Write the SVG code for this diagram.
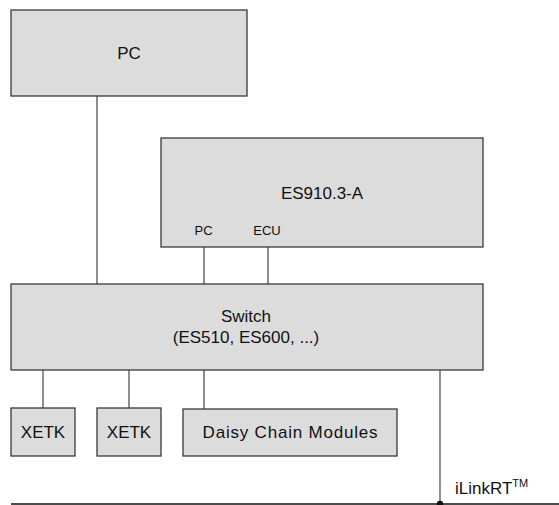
<svg xmlns="http://www.w3.org/2000/svg" width="559" height="505" viewBox="0 0 559 505">
<style>
.box{fill:#dcdcdc;stroke:#3a3a3a;stroke-width:1.3}
.t{font-family:"Liberation Sans",Arial,sans-serif;font-size:17px;fill:#111;text-anchor:middle}
.s{font-family:"Liberation Sans",Arial,sans-serif;font-size:13px;fill:#111;text-anchor:middle}
.c{stroke:#444;stroke-width:1.2;fill:none}
</style>
<rect width="559" height="505" fill="#fff"/>
<g id="connectors">
<line class="c" x1="97" y1="96" x2="97" y2="284"/>
<line class="c" x1="204" y1="247" x2="204" y2="284"/>
<line class="c" x1="268" y1="247" x2="268" y2="284"/>
<line class="c" x1="43" y1="370" x2="43" y2="408"/>
<line class="c" x1="129" y1="370" x2="129" y2="408"/>
<line class="c" x1="204" y1="370" x2="204" y2="409"/>
<line class="c" x1="440" y1="370" x2="440" y2="504"/>
<line x1="11" y1="504" x2="559" y2="504" stroke="#111" stroke-width="1.3"/>
<circle cx="440" cy="504" r="3.2" fill="#111"/>
</g>
<g id="pc">
<rect class="box" x="11" y="10" width="236" height="86"/>
<text class="t" x="129" y="58.5">PC</text>
</g>
<g id="es910">
<rect class="box" x="161" y="138" width="322" height="109"/>
<text class="t" x="322" y="198.5">ES910.3-A</text>
<text class="s" x="203.5" y="235">PC</text>
<text class="s" x="267" y="235">ECU</text>
</g>
<g id="switch">
<rect class="box" x="11" y="284" width="472" height="86"/>
<text class="t" x="246" y="322">Switch</text>
<text class="t" x="246" y="343">(ES510, ES600, ...)</text>
</g>
<g id="xetk1">
<rect class="box" x="11" y="408" width="64" height="48"/>
<text class="t" x="43" y="438">XETK</text>
</g>
<g id="xetk2">
<rect class="box" x="97" y="408" width="64" height="48"/>
<text class="t" x="129" y="438">XETK</text>
</g>
<g id="daisy">
<rect class="box" x="183" y="409" width="214" height="47"/>
<text class="t" x="290.5" y="438" letter-spacing="0.8">Daisy Chain Modules</text>
</g>
<g id="ilinkrt">
<text font-family="'Liberation Sans',Arial,sans-serif" font-size="17" fill="#111" x="455" y="494">iLinkRT<tspan font-size="11" dy="-7">TM</tspan></text>
</g>
</svg>
